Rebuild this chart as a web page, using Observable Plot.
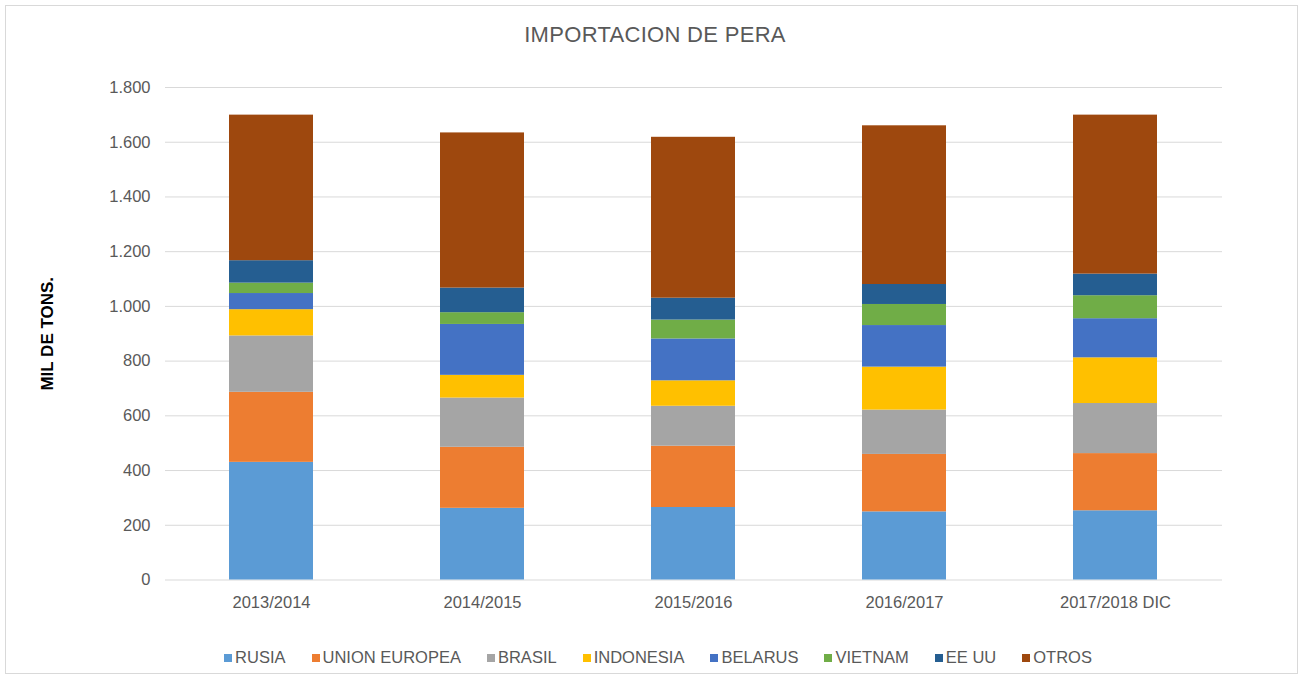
<!DOCTYPE html>
<html>
<head>
<meta charset="utf-8">
<script src="https://cdn.jsdelivr.net/npm/d3@7"></script>
<script src="https://cdn.jsdelivr.net/npm/@observablehq/plot@0.6"></script>
<style>
  html, body { margin: 0; padding: 0; background: #fff; }
  #wrap { position: relative; width: 1304px; height: 680px; overflow: hidden; font-family: "Liberation Sans", Arial, sans-serif; }
  #frame { position: absolute; left: 5px; top: 5px; width: 1293px; height: 669px; border: 1px solid #d9d9d9; box-sizing: border-box; }
  #title { position: absolute; left: 0; width: 1310px; top: 23px; text-align: center; font-size: 22px; line-height: 24px; color: #595959; letter-spacing: 0.3px; }
  #plot { position: absolute; left: 0; top: 60px; }
  #legend { position: absolute; left: 0; width: 1316px; top: 648px; display: flex; justify-content: center; font-size: 16.5px; color: #595959; }
  .item { display: flex; align-items: center; margin: 0 13px; }
  .sw { width: 8px; height: 8px; margin-right: 3px; }
</style>
</head>
<body>
<div id="wrap">
  <div id="frame"></div>
  <div id="title"></div>
  <div id="plot"></div>
  <div id="legend"></div>
</div>
<script>
const title = "IMPORTACION DE PERA";
const yLabel = "MIL DE TONS.";
const periods = ["2013/2014", "2014/2015", "2015/2016", "2016/2017", "2017/2018 DIC"];
const series = ["RUSIA", "UNION EUROPEA", "BRASIL", "INDONESIA", "BELARUS", "VIETNAM", "EE UU", "OTROS"];
const colors = ["#5B9BD5", "#ED7D31", "#A5A5A5", "#FFC000", "#4472C4", "#70AD47", "#255E91", "#9E480E"];
const yTicks = [0, 200, 400, 600, 800, 1000, 1200, 1400, 1600, 1800];

const rusia      = [430, 262, 265, 249, 253];
const unionEur   = [256, 223, 224, 210, 209];
const brasil     = [206, 180, 146, 162, 183];
const indonesia  = [96, 83, 93, 157, 167];
const belarus    = [59, 186, 153, 152, 143];
const vietnam    = [38, 43, 69, 77, 84];
const eeuu       = [82, 90, 80, 73, 79];
const otros      = [532, 567, 588, 580, 581];

const valuesBySeries = [rusia, unionEur, brasil, indonesia, belarus, vietnam, eeuu, otros];
const data = [];
periods.forEach((p, i) => {
  series.forEach((s, j) => data.push({period: p, serie: s, value: valuesBySeries[j][i]}));
});

document.getElementById("title").textContent = title;

const fmt = d => d3.format(",")(d).replace(/,/g, ".");

const chart = Plot.plot({
  width: 1304,
  height: 560,
  marginLeft: 165,
  marginRight: 82,
  marginTop: 27,
  marginBottom: 40.5,
  style: {fontFamily: "'Liberation Sans', Arial, sans-serif", fontSize: "16.5px", color: "#595959", background: "transparent", overflow: "visible"},
  x: {domain: periods, paddingInner: 0.6, paddingOuter: 0.3, align: 0.5, label: null, tickSize: 0, tickPadding: 16},
  y: {domain: [0, 1800], ticks: yTicks, tickFormat: fmt, tickSize: 0, tickPadding: 15, label: yLabel, labelArrow: false, labelAnchor: "center", labelOffset: 125},
  color: {domain: series, range: colors},
  marks: [
    Plot.ruleY(yTicks, {stroke: "#d9d9d9", strokeWidth: 1}),
    Plot.barY(data, {x: "period", y: "value", fill: "serie", order: series})
  ]
});
document.getElementById("plot").appendChild(chart);

chart.querySelectorAll("text").forEach(t => {
  if (t.textContent.trim().startsWith(yLabel)) {
    t.textContent = yLabel;
    t.setAttribute("font-weight", "bold");
    t.setAttribute("fill", "#000");
    t.style.fill = "#000";
    t.style.fontWeight = "bold";
    t.style.fontSize = "17px";
  }
});

const legend = document.getElementById("legend");
series.forEach((s, i) => {
  const it = document.createElement("div");
  it.className = "item";
  const sw = document.createElement("span");
  sw.className = "sw";
  sw.style.background = colors[i];
  const tx = document.createElement("span");
  tx.textContent = s;
  it.appendChild(sw); it.appendChild(tx);
  legend.appendChild(it);
});
</script>
</body>
</html>
